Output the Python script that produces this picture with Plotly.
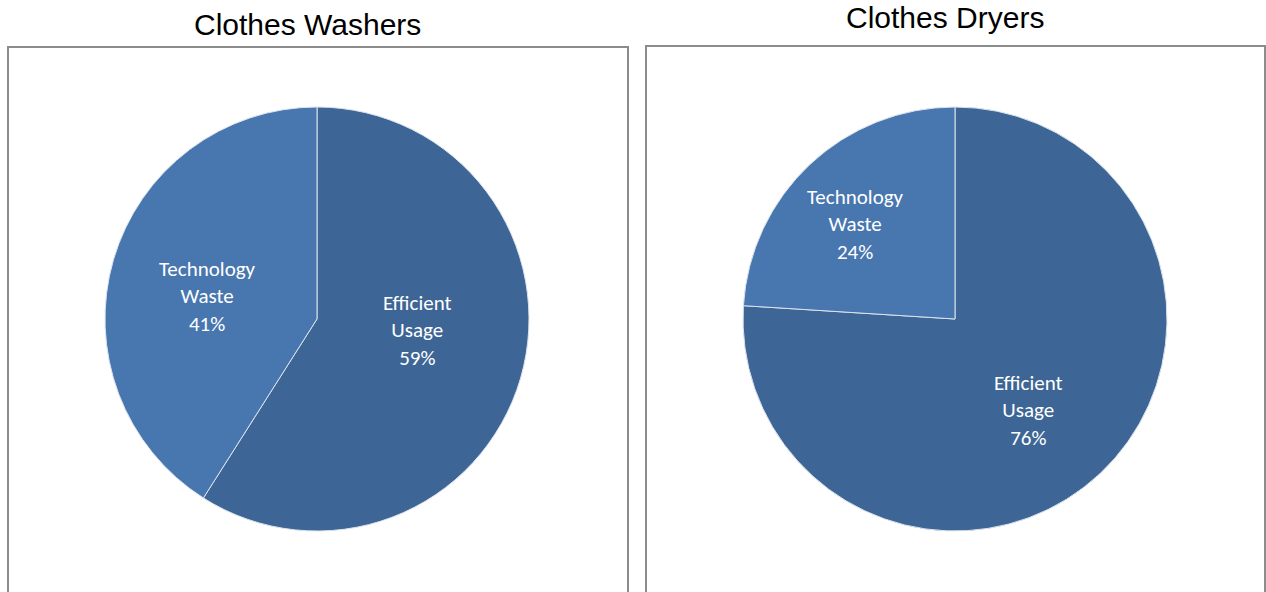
import plotly.graph_objects as go

# Energy share per appliance
categories = ["Efficient Usage", "Technology Waste"]
washer_values = [59, 41]
dryer_values = [76, 24]
titles = ["Clothes Washers", "Clothes Dryers"]

colors = ["#3D6595", "#4876AF"]
W, H = 1266, 592

def px(x):
    return x / W

def py(y):
    return 1 - y / H

fig = go.Figure()

pies = [
    (washer_values, [105, 529], [107, 531]),
    (dryer_values, [743, 1167], [106, 532]),
]
for vals, (x0, x1), (y0, y1) in pies:
    fig.add_trace(go.Pie(
        labels=categories, values=vals, sort=False, direction="clockwise",
        rotation=0, textinfo="none", hoverinfo="label+percent",
        marker=dict(colors=colors, line=dict(color="#DCE3EE", width=1)),
        domain=dict(x=[px(x0), px(x1)], y=[py(y1), py(y0)]),
        showlegend=False,
    ))

# Frames around each chart
boxes = [(8, 47, 628, 600), (646, 46, 1265, 600)]
for x0, y0, x1, y1 in boxes:
    fig.add_shape(type="rect", xref="paper", yref="paper",
                  x0=px(x0), x1=px(x1), y0=py(y1), y1=py(y0),
                  line=dict(color="#8C8C8C", width=2), fillcolor="rgba(0,0,0,0)")

# Chart titles
title_pos = [(307, 25), (945, 17)]
for t, (x, y) in zip(titles, title_pos):
    fig.add_annotation(text=t, x=px(x), y=py(y), xref="paper", yref="paper",
                       showarrow=False, xanchor="center", yanchor="middle",
                       font=dict(family="Liberation Sans Narrow, Arial Narrow, Liberation Sans",
                                 size=30, color="#000000"))

# Slice labels
label_pos = [
    [(417, 330), (207, 296)],
    [(1028, 410), (855, 224)],
]
for vals, positions in zip([washer_values, dryer_values], label_pos):
    total = sum(vals)
    for cat, v, (x, y) in zip(categories, vals, positions):
        words = cat.split(" ")
        text = "<br>".join(words + [f"{round(100 * v / total)}%"])
        fig.add_annotation(text=text, x=px(x), y=py(y), xref="paper", yref="paper",
                           showarrow=False, xanchor="center", yanchor="middle",
                           font=dict(family="Carlito, Lato, Open Sans", size=21,
                                     color="#FFFFFF"))

fig.update_layout(width=W, height=H, margin=dict(l=0, r=0, t=0, b=0),
                  paper_bgcolor="white", plot_bgcolor="white")

fig.write_html("out.html")
